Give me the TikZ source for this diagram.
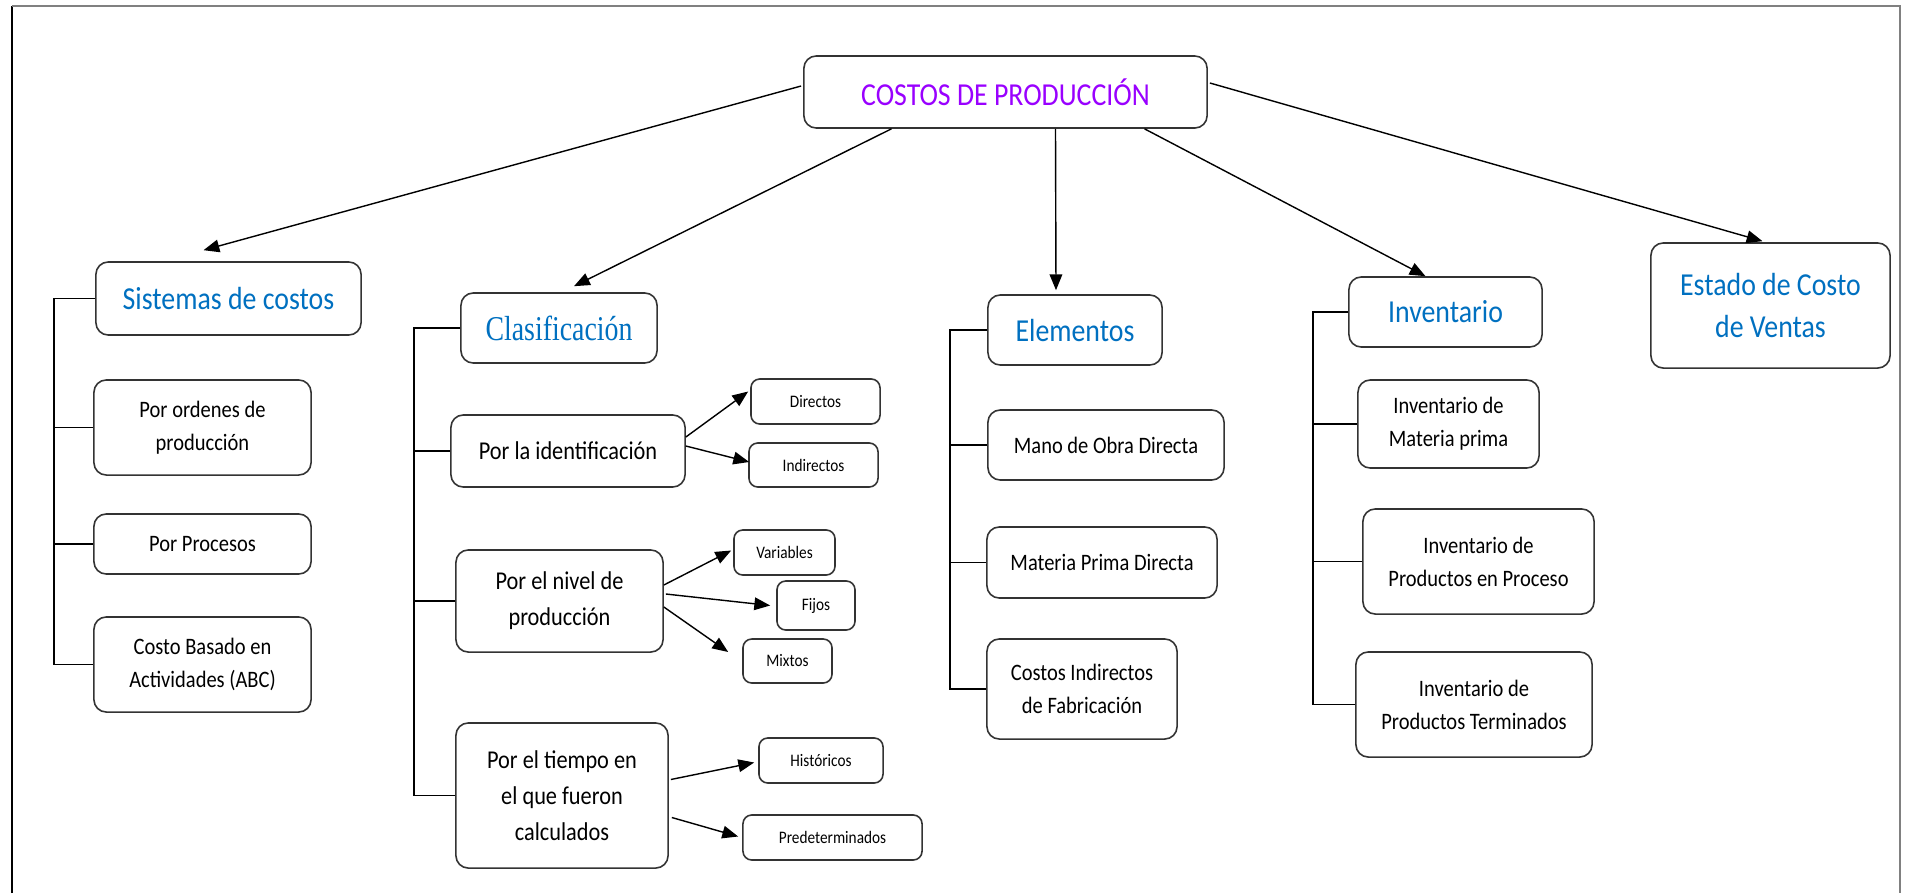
\documentclass[tikz,border=0pt]{standalone}
\usepackage{fontspec}
\setmainfont[FakeStretch=0.87]{Carlito}
\newfontfamily\clafont[FakeStretch=0.8]{Liberation Serif}
\usetikzlibrary{arrows.meta}

\definecolor{headblue}{RGB}{0,112,192}
\definecolor{titlepurple}{RGB}{153,0,255}

\newcommand{\headsize}{\fontsize{9.1pt}{12.2pt}\selectfont}
\newcommand{\itemsize}{\fontsize{6.7pt}{9.4pt}\selectfont}
\newcommand{\midsize}{\fontsize{7.3pt}{10.2pt}\selectfont}
\newcommand{\smallsize}{\fontsize{5pt}{6pt}\selectfont}
\newcommand{\clasize}{\fontsize{9.9pt}{12pt}\selectfont}

\tikzset{
  box/.style={draw=black!80, line width=0.45pt, rounded corners=3.5pt, align=center, inner sep=0pt},
  headbox/.style={box, text=headblue, font=\headsize},
  itembox/.style={box, font=\itemsize},
  midbox/.style={box, font=\midsize},
  smallbox/.style={box, rounded corners=2.5pt, font=\smallsize},
  sz/.style 2 args={minimum width=#1cm, minimum height=#2cm},
  arr/.style={-{Triangle[length=4.5pt,width=3.6pt]}, line width=0.4pt},
  tree/.style={line width=0.45pt},
}

\begin{document}
\begin{tikzpicture}[x=0.01cm, y=-0.01cm]
    \useasboundingbox (0,0) rectangle (1905,893);

    % Frame
    \draw[line width=0.5pt] (12,893) -- (12,6);
    \draw[gray, line width=0.5pt] (12,6) -- (1900,6) -- (1900,893);

    % Main node
    \node[headbox, text=titlepurple, sz={4.03}{0.72}] (costos) at (1005.5,92) {COSTOS DE PRODUCCIÓN};

    % Categories
    \node[headbox, sz={2.65}{0.73}] (sistemas) at (228.5,298.5) {Sistemas de costos};
    \node[headbox, font={\clafont\clasize}, sz={1.96}{0.70}] (clasif) at (559,328) {Clasificación};
    \node[headbox, sz={1.74}{0.70}] (elementos) at (1075,330) {Elementos};
    \node[headbox, sz={1.93}{0.70}] (inventario) at (1445.5,312) {Inventario};
    \node[headbox, sz={2.39}{1.25}] (estado) at (1770.5,305.5) {Estado de Costo\\de Ventas};

    % Sistemas de costos
    \node[itembox, sz={2.17}{0.95}] (ordenes) at (202.5,427.5) {Por ordenes de\\producción};
    \node[itembox, sz={2.17}{0.60}] (procesos) at (202.5,544) {Por Procesos};
    \node[itembox, sz={2.17}{0.95}] (abc) at (202.5,664.5) {Costo Basado en\\Actividades (ABC)};

    % Clasificacion
    \node[midbox, sz={2.34}{0.72}] (identif) at (568,451) {Por la identificación};
    \node[midbox, sz={2.07}{1.02}] (nivel) at (559.5,601) {Por el nivel de\\producción};
    \node[midbox, sz={2.12}{1.45}] (tiempo) at (562,795.5) {Por el tiempo en\\el que fueron\\calculados};

    \node[smallbox, sz={1.29}{0.45}] (directos) at (815.5,401.5) {Directos};
    \node[smallbox, sz={1.29}{0.44}] (indirectos) at (813.5,465) {Indirectos};
    \node[smallbox, sz={1.01}{0.45}] (variables) at (784.5,552.5) {Variables};
    \node[smallbox, sz={0.78}{0.49}] (fijos) at (816,605.5) {Fijos};
    \node[smallbox, sz={0.89}{0.44}] (mixtos) at (787.5,661) {Mixtos};
    \node[smallbox, sz={1.24}{0.45}] (historicos) at (821,760.5) {Históricos};
    \node[smallbox, sz={1.79}{0.45}] (predet) at (832.5,837.5) {Predeterminados};

    % Elementos
    \node[itembox, sz={2.36}{0.70}] (manoobra) at (1106,445) {Mano de Obra Directa};
    \node[itembox, sz={2.30}{0.71}] (materiap) at (1102,562.5) {Materia Prima Directa};
    \node[itembox, sz={1.90}{1.00}] (cif) at (1082,689) {Costos Indirectos\\de Fabricación};

    % Inventario
    \node[itembox, sz={1.81}{0.88}] (invmp) at (1448.5,424) {Inventario de\\Materia prima};
    \node[itembox, sz={2.31}{1.05}] (invpp) at (1478.5,561.5) {Inventario de\\Productos en Proceso};
    \node[itembox, sz={2.36}{1.05}] (invpt) at (1474,704.5) {Inventario de\\Productos Terminados};

    % Arrows from the main node
    \draw[arr] ([shift={(-2,-6)}]costos.west) -- ([shift={(-25,-11)}]sistemas.north);
    \draw[arr] ([shift={(-114,0)}]costos.south) -- ([shift={(15,-6)}]clasif.north);
    \draw[arr] ([shift={(50,0)}]costos.south) -- ([shift={(-19,-4)}]elementos.north);
    \draw[arr] ([shift={(139,0)}]costos.south) -- ([shift={(-20,0)}]inventario.north);
    \draw[arr] ([shift={(2,-9)}]costos.east) -- ([shift={(-8,-1)}]estado.north);

    % Arrows of the classification
    \draw[arr] ([shift={(0,-14)}]identif.east) -- ([shift={(-2,-10)}]directos.west);
    \draw[arr] ([shift={(0,-5)}]identif.east) -- ([shift={(1,-3)}]indirectos.west);
    \draw[arr] ([shift={(0,-16)}]nivel.east) -- ([shift={(-2,-2)}]variables.west);
    \draw[arr] ([shift={(2,-7)}]nivel.east) -- ([shift={(-6,0)}]fijos.west);
    \draw[arr] ([shift={(0,6)}]nivel.east) -- ([shift={(-14,-9)}]mixtos.west);
    \draw[arr] ([shift={(2,-16)}]tiempo.east) -- ([shift={(-4,2)}]historicos.west);
    \draw[arr] ([shift={(3,22)}]tiempo.east) -- ([shift={(-4,-1)}]predet.west);

    % Trees
    \coordinate (tsis) at (54,0);
    \coordinate (tcla) at (414,0);
    \coordinate (tele) at (950,0);
    \coordinate (tinv) at (1313,0);

    \draw[tree] (sistemas.west) -- (sistemas.west -| tsis) -- (abc.west -| tsis) -- (abc.west);
    \foreach \n in {ordenes, procesos} \draw[tree] (\n.west) -- (\n.west -| tsis);

    \draw[tree] (clasif.west) -- (clasif.west -| tcla) -- (tiempo.west -| tcla) -- (tiempo.west);
    \foreach \n in {identif, nivel} \draw[tree] (\n.west) -- (\n.west -| tcla);

    \draw[tree] (elementos.west) -- (elementos.west -| tele) -- (cif.west -| tele) -- (cif.west);
    \foreach \n in {manoobra, materiap} \draw[tree] (\n.west) -- (\n.west -| tele);

    \draw[tree] (inventario.west) -- (inventario.west -| tinv) -- (invpt.west -| tinv) -- (invpt.west);
    \foreach \n in {invmp, invpp} \draw[tree] (\n.west) -- (\n.west -| tinv);
\end{tikzpicture}
\end{document}
